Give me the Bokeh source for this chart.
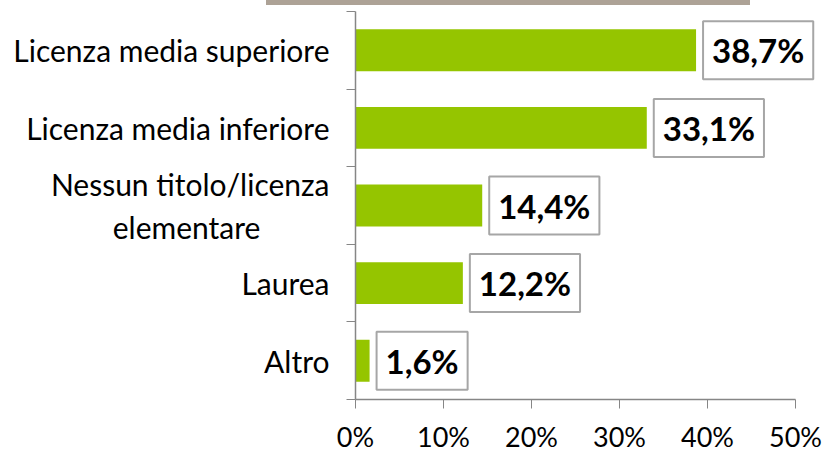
from bokeh.plotting import figure
from bokeh.models import ColumnDataSource, Label, FixedTicker, PrintfTickFormatter, Div, Spacer
from bokeh.layouts import column, row
from bokeh.embed import file_html
from bokeh.resources import INLINE

categories = ["Altro", "Laurea",
              "Nessun titolo/licenza\nelementare" + "\u00a0" * 9,
              "Licenza media inferiore", "Licenza media superiore"]
values = [1.6, 12.2, 14.4, 33.1, 38.7]
labels = ["1,6%", "12,2%", "14,4%", "33,1%", "38,7%"]
x_ticks = [0, 10, 20, 30, 40, 50]

n = len(categories)
ypos = [i + 0.5 for i in range(n)]
src = ColumnDataSource(dict(y=ypos, v=values, lab=labels))

FONT = "Lato"
AXIS_COLOR = "#868686"

W, H = 825, 450
LEFT = 355
AXIS_RIGHT = 795
x_end = x_ticks[-1] * (W - LEFT) / (AXIS_RIGHT - LEFT)

p = figure(width=W, height=H, x_range=(0, x_end), y_range=(0, n),
           output_backend="svg", toolbar_location=None,
           min_border_left=LEFT, min_border_right=0,
           min_border_top=6, min_border_bottom=53)
p.outline_line_color = None
p.xgrid.visible = False
p.ygrid.visible = False
p.background_fill_color = "white"
p.border_fill_color = "white"

p.hbar(y="y", left=0, right="v", height=0.54, source=src,
       fill_color="#95C500", line_color=None)

for yv, v, t in zip(ypos, values, labels):
    p.add_layout(Label(x=v, y=yv, text=t, x_offset=7,
                       text_baseline="middle", text_align="left",
                       text_font=FONT, text_font_style="bold", text_font_size="33px",
                       text_color="black",
                       background_fill_color="white", border_line_color="#A6A6A6",
                       border_line_width=2, padding=9))

ya = p.yaxis[0]
ya.ticker = FixedTicker(ticks=ypos, minor_ticks=list(range(n + 1)))
ya.major_label_overrides = {y: c for y, c in zip(ypos, categories)}
ya.major_tick_line_color = None
ya.major_tick_out = 0
ya.major_tick_in = 0
ya.minor_tick_out = 9
ya.minor_tick_in = 0
ya.minor_tick_line_color = AXIS_COLOR
ya.major_label_standoff = 17
ya.major_label_text_font_size = "30px"

xa = p.xaxis[0]
xa.ticker = FixedTicker(ticks=x_ticks)
xa.formatter = PrintfTickFormatter(format="%d%%")
xa.bounds = (x_ticks[0], x_ticks[-1])
xa.major_tick_out = 9
xa.major_tick_in = 0
xa.minor_tick_line_color = None
xa.major_tick_line_color = AXIS_COLOR
xa.major_label_standoff = 11
xa.major_label_text_font_size = "27px"

for ax in (xa, ya):
    ax.axis_line_color = AXIS_COLOR
    ax.axis_line_width = 1.5
    ax.major_label_text_font = FONT
    ax.major_label_text_color = "black"

top_bar = row(Spacer(width=266, height=5, margin=0),
              Div(text="", width=484, height=5, margin=0,
                  styles={"background-color": "#ADA296"}),
              spacing=0)
layout = column(top_bar, p, spacing=0)

open("out.html", "w").write(file_html(layout, INLINE))
